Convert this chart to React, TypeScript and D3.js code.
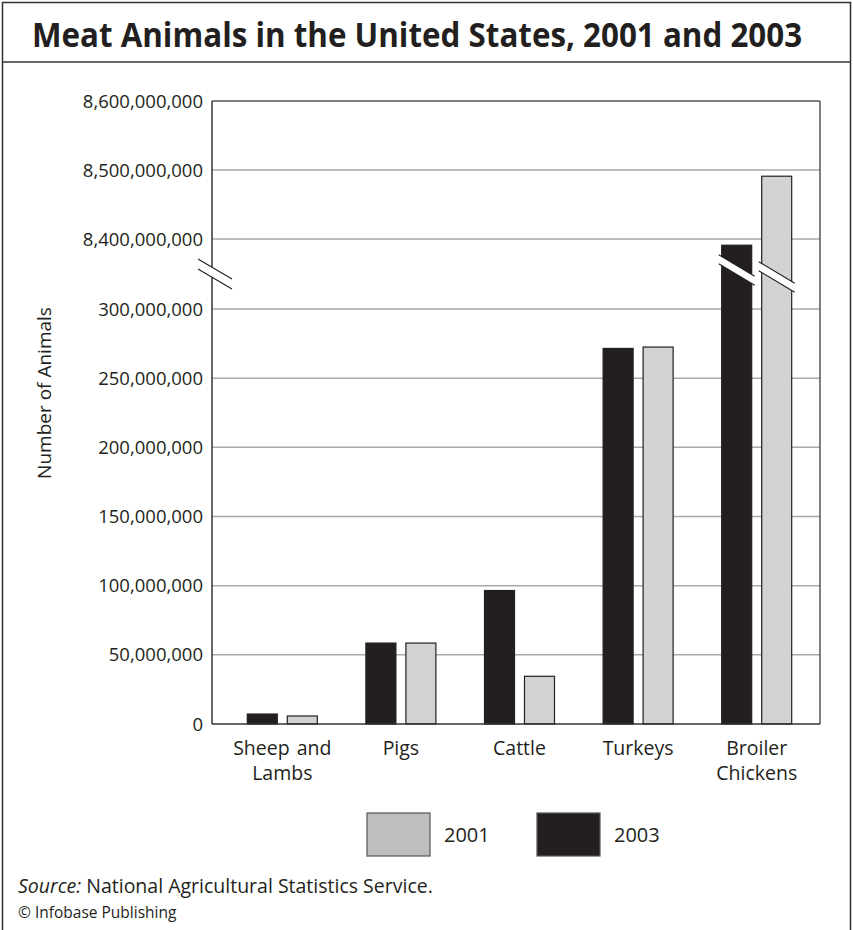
import React, { useLayoutEffect, useRef, useState } from "react";
import * as d3 from "d3";

const categories = ["Sheep and Lambs", "Pigs", "Cattle", "Turkeys", "Broiler Chickens"];
const categoryLines = [["Sheep and", "Lambs"], ["Pigs"], ["Cattle"], ["Turkeys"], ["Broiler", "Chickens"]];
const series = ["2003", "2001"];
const values2003 = [7.2e6, 58.5e6, 96.5e6, 271.5e6, 8391e6];
const values2001 = [5.8e6, 58.5e6, 34.5e6, 272.5e6, 8491e6];
const lowTicks = [0, 50e6, 100e6, 150e6, 200e6, 250e6, 300e6];
const highTicks = [8400e6, 8500e6, 8600e6];
const legendItems = ["2001", "2003"];
const title = "Meat Animals in the United States, 2001 and 2003";
const yTitle = "Number of Animals";

const W = 853;
const H = 930;
const FONT = "'Open Sans', 'Noto Sans', sans-serif";
const BLACK = "#231f20";
const GRAY = "#d1d2d4";
const LEGEND_GRAY = "#bcbec0";
const TITLE_W = 770;

const plotL = 212, plotR = 820, plotT = 101, plotB = 724;

const yLow = d3.scaleLinear().domain([0, 300e6]).range([plotB, 309]);
const yHigh = d3.scaleLinear().domain([8400e6, 8600e6]).range([239, plotT]);
const LOW_MAX = 300e6;
const y = (v: number) => (v <= LOW_MAX ? yLow(v) : yHigh(v));
const breakY = (yLow(LOW_MAX) + yHigh(8400e6)) / 2;

const x0 = d3.scaleBand<string>().domain(categories).range([223, 816]).paddingInner(0).paddingOuter(0);
const x1 = d3.scaleBand<string>().domain(series).range([0, 70]).paddingInner(0.25).paddingOuter(0);
const fmt = d3.format(",");

function BreakMark({ cx, cy, halfW, gap, slope }: { cx: number; cy: number; halfW: number; gap: number; slope: number }) {
  const xa = cx - halfW, xb = cx + halfW;
  const ya = cy - slope * halfW, yb = cy + slope * halfW;
  const pts = `${xa},${ya - gap / 2} ${xb},${yb - gap / 2} ${xb},${yb + gap / 2} ${xa},${ya + gap / 2}`;
  return (
    <g>
      <polygon points={pts} fill="white" />
      <line x1={xa} y1={ya - gap / 2} x2={xb} y2={yb - gap / 2} stroke={BLACK} strokeWidth={1.1} />
      <line x1={xa} y1={ya + gap / 2} x2={xb} y2={yb + gap / 2} stroke={BLACK} strokeWidth={1.1} />
    </g>
  );
}

export default function App() {
  const titleRef = useRef<SVGTextElement>(null);
  const [titleScale, setTitleScale] = useState(0.84);
  useLayoutEffect(() => {
    const el = titleRef.current;
    if (el) {
      const w = el.getComputedTextLength();
      if (w > 0) setTitleScale(TITLE_W / w);
    }
  }, []);

  const groups = categories.map((c, i) => {
    const gx = (x0(c) as number) + x0.bandwidth() / 2 - 35;
    return { c, i, gx, vals: { "2003": values2003[i], "2001": values2001[i] } as Record<string, number> };
  });

  return (
    <div style={{ position: "absolute", left: 0, top: 0 }}>
      <svg width={W} height={H} style={{ display: "block", background: "white" }} fontFamily={FONT}>
        {/* frame */}
        <rect x={2.5} y={2.5} width={848} height={H + 10} fill="none" stroke="#333" strokeWidth={1.5} />
        <line x1={2.5} x2={850.5} y1={62} y2={62} stroke="#333" strokeWidth={1.5} />
        <g transform={`translate(417,47) scale(${titleScale},1)`}>
          <text ref={titleRef} x={0} y={0} textAnchor="middle" fontSize={34} fontWeight={700} fill={BLACK}>
            {title}
          </text>
        </g>

        {/* gridlines */}
        {[...lowTicks.slice(1), ...highTicks.slice(0, 2)].map((t) => (
          <line key={t} x1={plotL} x2={plotR} y1={y(t)} y2={y(t)} stroke="#a7a9ac" strokeWidth={1.5} />
        ))}

        {/* bars */}
        {groups.map((g) =>
          series.map((s) => {
            const v = g.vals[s];
            const bx = g.gx + (x1(s) as number);
            const top = y(v);
            return (
              <rect key={g.c + s} x={bx} y={top} width={x1.bandwidth()} height={plotB - top}
                fill={s === "2003" ? BLACK : GRAY} stroke={BLACK} strokeWidth={1.2} />
            );
          })
        )}

        {/* break marks on bars exceeding the lower segment */}
        {groups.map((g) =>
          series.map((s) => {
            const v = g.vals[s];
            if (v <= LOW_MAX) return null;
            const bx = g.gx + (x1(s) as number);
            const cx = bx + x1.bandwidth() / 2;
            return <BreakMark key={"b" + g.c + s} cx={cx} cy={breakY + (s === "2003" ? -4 : 3)} halfW={x1.bandwidth() / 2 + 3} gap={9} slope={0.6} />;
          })
        )}

        {/* plot frame */}
        <line x1={plotL} x2={plotR} y1={plotT} y2={plotT} stroke="#555" strokeWidth={1.5} />
        <line x1={plotR} x2={plotR} y1={plotT} y2={plotB} stroke="#555" strokeWidth={1.5} />
        <line x1={plotL} x2={plotL} y1={plotT} y2={plotB} stroke="#333" strokeWidth={1.5} />
        <line x1={plotL} x2={plotR} y1={plotB} y2={plotB} stroke="#333" strokeWidth={1.5} />
        <BreakMark cx={215} cy={breakY} halfW={17} gap={10} slope={0.59} />

        {/* y ticks */}
        {[...lowTicks, ...highTicks].map((t) => (
          <text key={"t" + t} x={203} y={y(t)} dy="0.36em" textAnchor="end" fontSize={18.5} fill={BLACK}>
            {fmt(t)}
          </text>
        ))}
        <text transform={`translate(51,393) rotate(-90)`} textAnchor="middle" fontSize={19} fill={BLACK}>
          {yTitle}
        </text>

        {/* category labels */}
        {groups.map((g) => (
          <text key={"c" + g.c} x={g.gx + 35} y={755} textAnchor="middle" fontSize={19.5} fill={BLACK} wordSpacing={2}>
            {categoryLines[g.i].map((ln, k) => (
              <tspan key={k} x={g.gx + 35} dy={k === 0 ? 0 : 25}>{ln}</tspan>
            ))}
          </text>
        ))}

        {/* legend */}
        {legendItems.map((s, i) => {
          const lx = 367 + i * 170;
          return (
            <g key={"l" + s}>
              <rect x={lx} y={813} width={63} height={43} fill={s === "2003" ? BLACK : LEGEND_GRAY} stroke="#555" strokeWidth={1.2} />
              <text x={lx + 77} y={835} dy="0.36em" fontSize={20} fill={BLACK}>{s}</text>
            </g>
          );
        })}

        {/* source */}
        <text x={18} y={893} fontSize={19.5} fill={BLACK}>
          <tspan fontStyle="italic">Source:</tspan>
          <tspan> National Agricultural Statistics Service.</tspan>
        </text>
        <text x={18} y={918} fontSize={15.5} fill={BLACK}>© Infobase Publishing</text>
      </svg>
    </div>
  );
}
